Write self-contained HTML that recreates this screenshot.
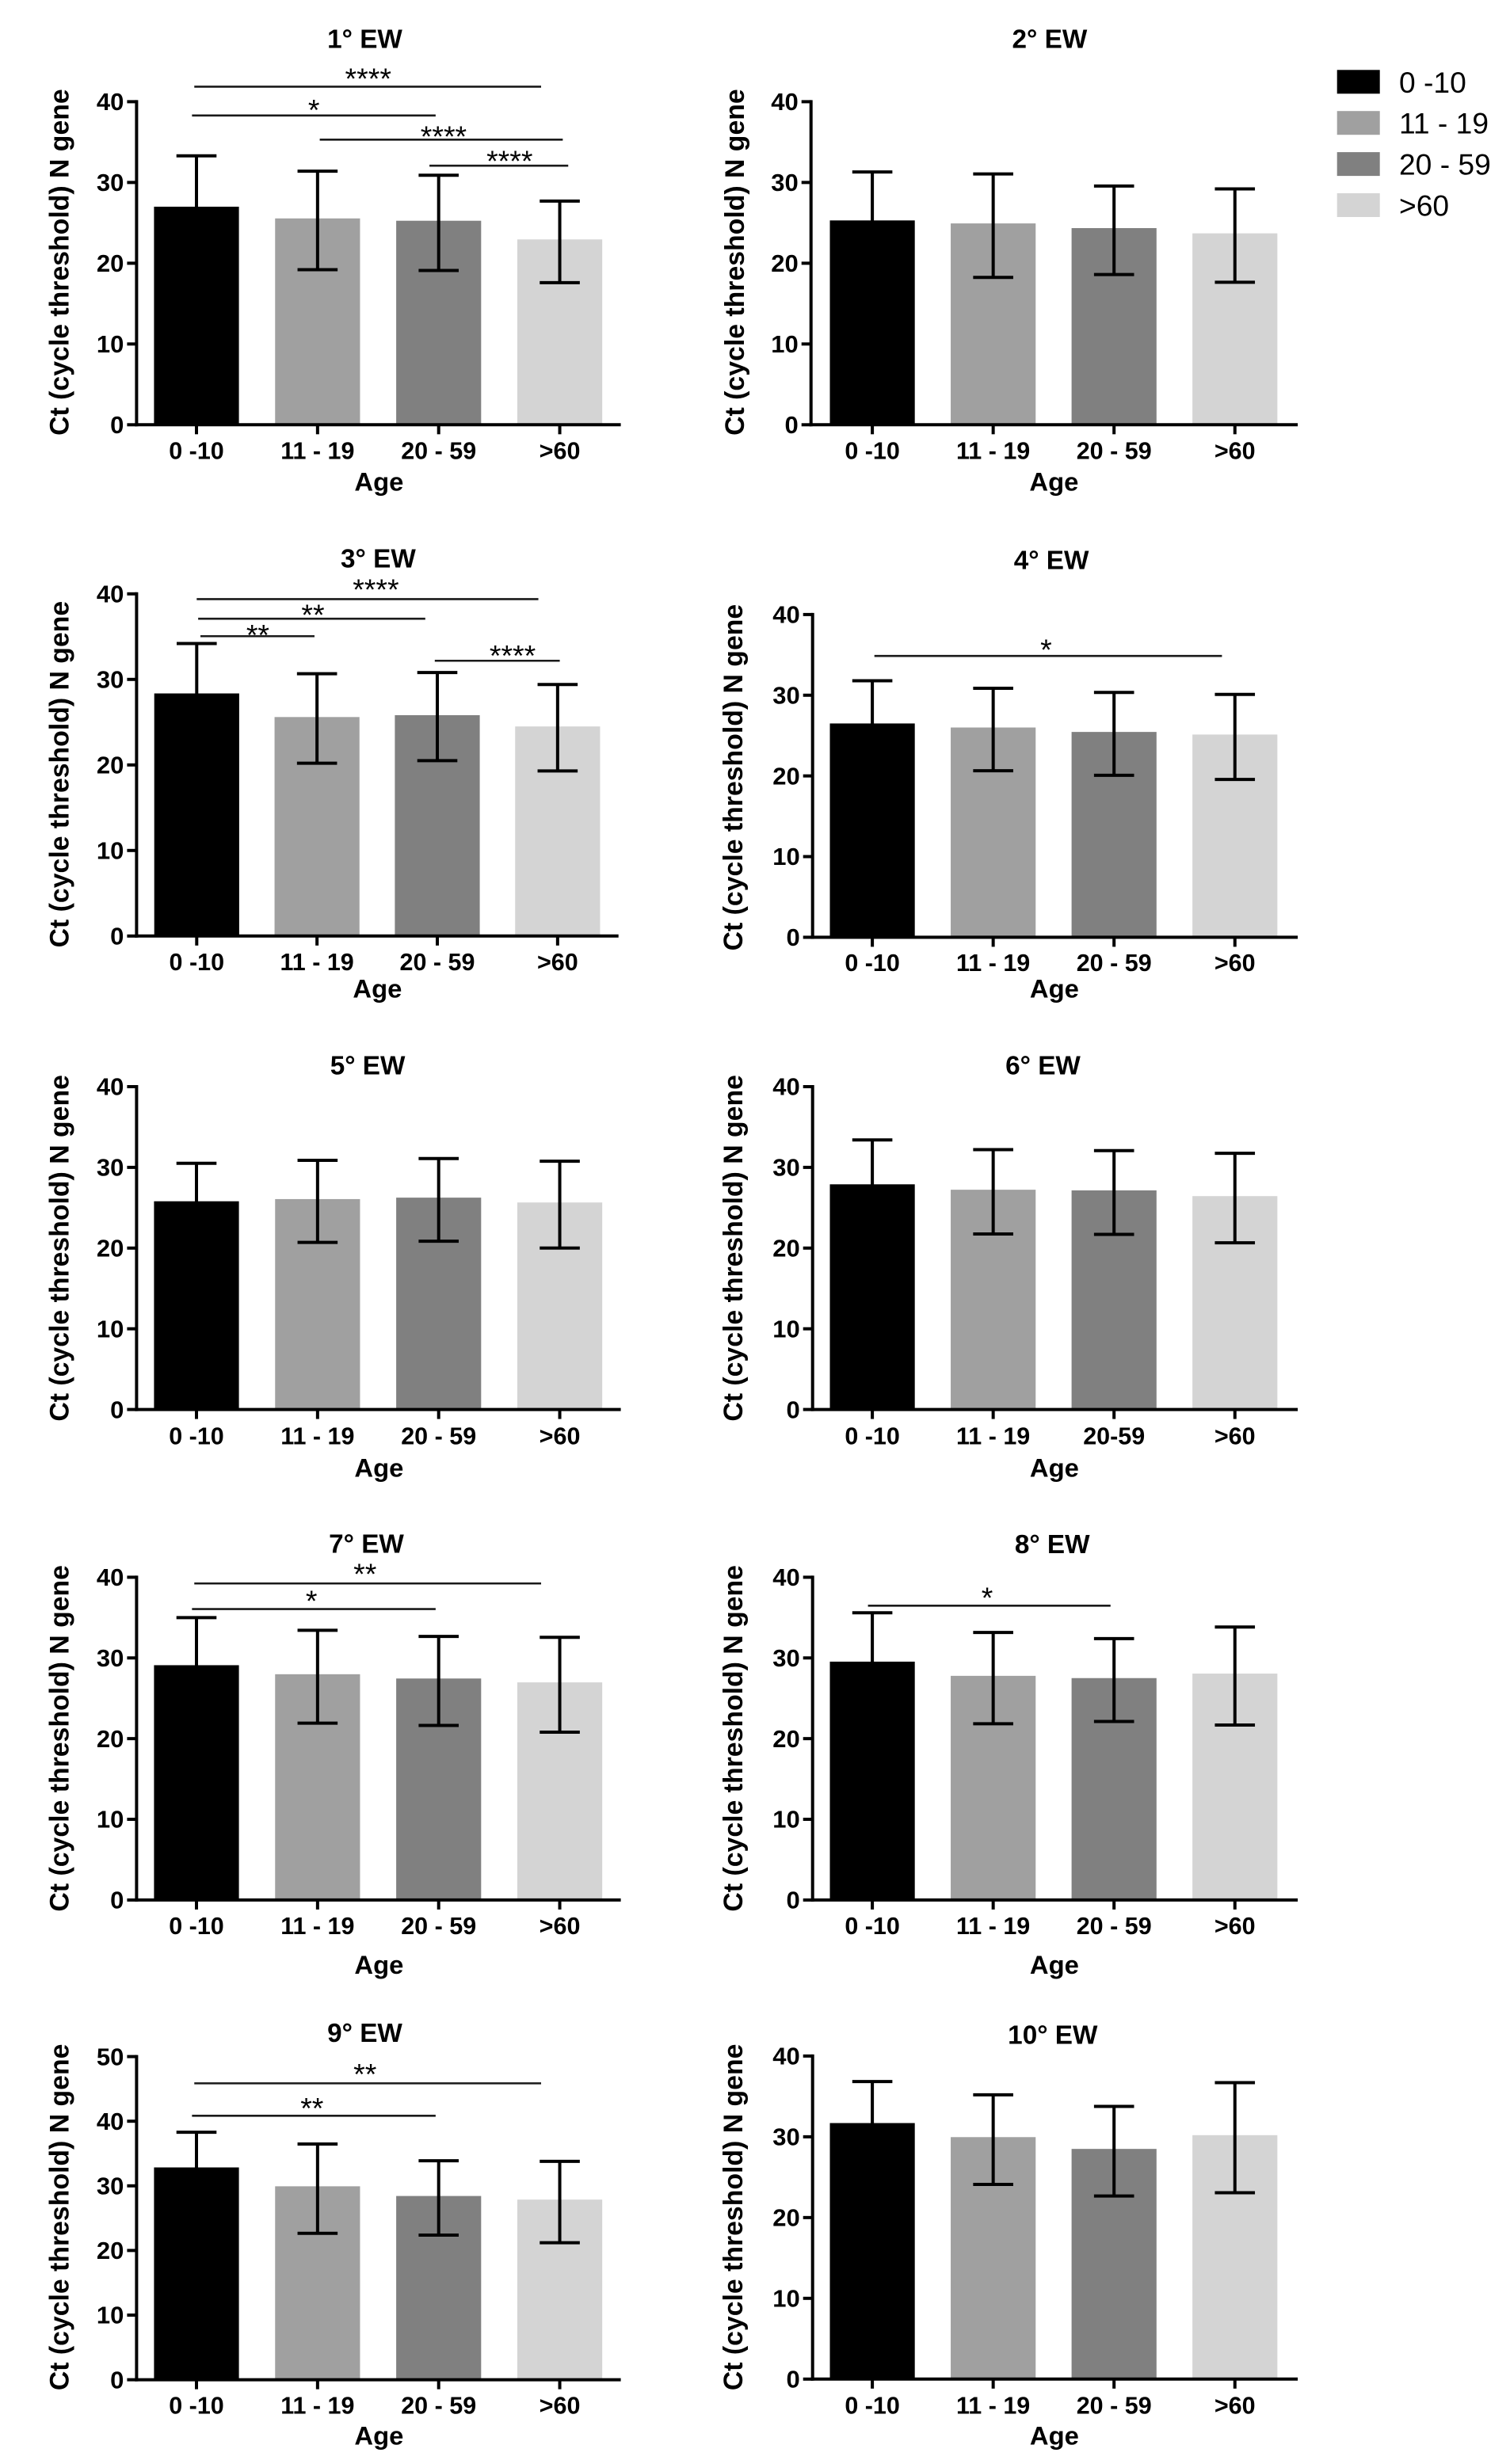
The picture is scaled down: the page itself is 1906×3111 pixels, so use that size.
<!DOCTYPE html>
<html lang="en">
<head>
<meta charset="utf-8">
<title>Ct values of N gene by age group and epidemiological week</title>
<style>
html,body{margin:0;padding:0;background:#fff;width:1906px;height:3111px;overflow:hidden}
svg{display:block}
text{font-family:"Liberation Sans",Arial,sans-serif;fill:#000}
.b{font-weight:700}
</style>
</head>
<body>
<svg id="figure" xmlns="http://www.w3.org/2000/svg" width="1906" height="3111" viewBox="0 0 1906 3111"></svg>
<script>
// ---------- chart data ----------
const panelTitles = ["1° EW","2° EW","3° EW","4° EW","5° EW","6° EW","7° EW","8° EW","9° EW","10° EW"];
const categories = ["0 -10","11 - 19","20 - 59",">60"];
const categoriesWeek6 = ["0 -10","11 - 19","20-59",">60"];
const yMaxes = [40,40,40,40,40,40,40,40,50,40];
const yTicks40 = [0,10,20,30,40];
const yTicks50 = [0,10,20,30,40,50];
const means = [
  [27.0,25.55,25.26,22.95],
  [25.3,24.93,24.35,23.7],
  [28.36,25.6,25.82,24.5],
  [26.5,26.0,25.45,25.13],
  [25.8,26.07,26.25,25.65],
  [27.9,27.23,27.15,26.44],
  [29.1,27.98,27.45,26.97],
  [29.54,27.78,27.5,28.06],
  [32.85,29.93,28.43,27.87],
  [31.7,29.96,28.5,30.2]
];
const errUpper = [
  [33.3,31.4,30.9,27.7],
  [31.3,31.05,29.56,29.2],
  [34.2,30.66,30.8,29.4],
  [31.8,30.86,30.34,30.1],
  [30.5,30.87,31.1,30.76],
  [33.4,32.2,32.07,31.74],
  [35.0,33.43,32.67,32.55],
  [35.6,33.15,32.4,33.83],
  [38.3,36.47,33.88,33.79],
  [36.84,35.2,33.76,36.7]
];
const errLower = [
  [20.7,19.2,19.1,17.6],
  [19.3,18.25,18.6,17.65],
  [22.5,20.2,20.5,19.3],
  [21.2,20.64,20.08,19.56],
  [21.1,20.7,20.85,20.0],
  [22.4,21.75,21.7,20.66],
  [23.2,21.92,21.64,20.8],
  [23.3,21.84,22.12,21.68],
  [27.3,22.65,22.37,21.2],
  [26.5,24.1,22.67,23.08]
];
// significance brackets: [from category, to category, level in Ct units]
const sigBrackets = [
  [[-0.018,2.846,41.86],[-0.037,1.975,38.29],[1.018,3.025,35.3],[1.924,3.07,32.08]],
  [],
  [[0,2.84,39.39],[0.012,1.9,37.09],[0.031,0.979,35.05],[1.979,3.018,32.18]],
  [[0.017,2.893,34.87]],
  [],
  [],
  [[-0.018,2.846,39.23],[-0.037,1.975,36.06]],
  [[-0.036,1.971,36.47]],
  [[-0.018,2.846,45.86],[-0.037,1.975,40.84]],
  []
];
// significance marks: [text, category position, level in Ct units]
const sigMarks = [
  [["****",1.418,43.44],["*",0.969,39.59],["****",2.041,36.29],["****",2.586,33.23]],
  [],
  [["****",1.489,41.06],["**",0.966,38.12],["**",0.508,35.76],["****",2.626,33.34]],
  [["*",1.438,36.23]],
  [],
  [],
  [["**",1.392,40.98],["*",0.95,37.67]],
  [["*",0.95,38.06]],
  [["**",1.392,48.03],["**",0.954,42.76]],
  []
];
const yAxisTitle = "Ct (cycle threshold) N gene";
const xAxisTitle = "Age";
const seriesColors = ["#000000","#a0a0a0","#808080","#d4d4d4"];

// ---------- page layout ----------
const leftCol  = {axisX:172.4, tick0:248, step:152.85, end:783.6, yLabX:86.3};
const rightCol = {axisX:1025.7, tick0:1101.1, step:152.55, end:1638.1, yLabX:936.8};
const frames = [
  {col:leftCol,  yTop:128.4,  y0:536.3,  titleX:460.5,  titleY:60.5, ageX:478.4,  ageY:619.3,  xLabY:579.6,  yLabCY:331.1},
  {col:rightCol, yTop:128.4,  y0:536.3,  titleX:1324.9, titleY:60.5, ageX:1330.4, ageY:619.3,  xLabY:579.6,  yLabCY:331.1, axisX:1023.7, yLabX:938.9},
  {col:leftCol,  yTop:749.8,  y0:1181.8, titleX:477.4,  titleY:716.6,ageX:476.4,  ageY:1259.5, xLabY:1225.2, yLabCY:977.6, step:151.85, tick0:248.3, end:780.7},
  {col:rightCol, yTop:775.9,  y0:1183.4, titleX:1327.1, titleY:718.6,ageX:1330.9, ageY:1259.5, xLabY:1226.2, yLabCY:981.6},
  {col:leftCol,  yTop:1372,   y0:1779.6, titleX:464.1,  titleY:1356.6,ageX:478.4, ageY:1864.7, xLabY:1823.5, yLabCY:1575.9},
  {col:rightCol, yTop:1372,   y0:1779.6, titleX:1316.5, titleY:1356.6,ageX:1330.9,ageY:1864.7, xLabY:1823.5, yLabCY:1575.9},
  {col:leftCol,  yTop:1991.4, y0:2398.9, titleX:462.5,  titleY:1960.5,ageX:478.4, ageY:2492,   xLabY:2441.9, yLabCY:2194.8},
  {col:rightCol, yTop:1991.4, y0:2398.9, titleX:1328.2, titleY:1961,  ageX:1330.9,ageY:2492,   xLabY:2441.9, yLabCY:2194.8},
  {col:leftCol,  yTop:2596.6, y0:3004.6, titleX:460.5,  titleY:2578,  ageX:478.4, ageY:3086.6, xLabY:3047.4, yLabCY:2799.4},
  {col:rightCol, yTop:2595.9, y0:3003.8, titleX:1328.8, titleY:2580.5,ageX:1330.9,ageY:3086.6, xLabY:3047.4, yLabCY:2799.4}
];
const BAR_W = 107.2, CAP_W = 50.6, ERR_SW = 4, AXIS_SW = 4, STAR_SIZE = 37.5;

// ---------- drawing ----------
const NS = "http://www.w3.org/2000/svg";
const figure = document.getElementById("figure");
function mk(tag, attrs, parent, txt){
  const el = document.createElementNS(NS, tag);
  for (const k in attrs) el.setAttribute(k, attrs[k]);
  if (txt !== undefined) el.textContent = txt;
  parent.appendChild(el);
  return el;
}
function drawPanel(i){
  const f = frames[i], c = f.col;
  const axisX = f.axisX ?? c.axisX, tick0 = f.tick0 ?? c.tick0, step = f.step ?? c.step,
        end = f.end ?? c.end, yLabX = f.yLabX ?? c.yLabX;
  const yMax = yMaxes[i];
  const yScale = v => f.y0 - (v / yMax) * (f.y0 - f.yTop);
  const xScale = k => tick0 + k * step;
  const labels = i === 5 ? categoriesWeek6 : categories;
  const ticks = yMax === 50 ? yTicks50 : yTicks40;

  const g = mk("g", {}, figure);
  
  

  const title = mk("text", {x:f.titleX, y:f.titleY, "text-anchor":"middle", "font-size":33.3, class:"b"}, g, panelTitles[i]);
  
  

  means[i].forEach((m, k) => {
    const bar = mk("rect", {x:xScale(k) - BAR_W / 2, y:yScale(m), width:BAR_W, height:f.y0 - yScale(m), fill:seriesColors[k]}, g);
    
    
  });
  means[i].forEach((m, k) => {
    const x = xScale(k), yU = yScale(errUpper[i][k]), yL = yScale(errLower[i][k]);
    const stem = mk("line", {x1:x, x2:x, y1:yU, y2:yL, stroke:"#000", "stroke-width":ERR_SW}, g);
    
    
    const capU = mk("line", {x1:x - CAP_W / 2, x2:x + CAP_W / 2, y1:yU, y2:yU, stroke:"#000", "stroke-width":ERR_SW}, g);
    
    
    const capL = mk("line", {x1:x - CAP_W / 2, x2:x + CAP_W / 2, y1:yL, y2:yL, stroke:"#000", "stroke-width":ERR_SW}, g);
    
    
  });

  const yAxis = mk("line", {x1:axisX, x2:axisX, y1:f.yTop - 2, y2:f.y0 + 2, stroke:"#000", "stroke-width":AXIS_SW}, g);
  
  
  const xAxis = mk("line", {x1:axisX - 2, x2:end, y1:f.y0, y2:f.y0, stroke:"#000", "stroke-width":AXIS_SW}, g);
  
  

  ticks.forEach(t => {
    const y = yScale(t);
    const tk = mk("line", {x1:axisX - 12, x2:axisX, y1:y, y2:y, stroke:"#000", "stroke-width":AXIS_SW}, g);
    
    
    const lb = mk("text", {x:axisX - 16, y:y + 10.7, "text-anchor":"end", "font-size":31, class:"b"}, g, String(t));
    
    
  });
  labels.forEach((name, k) => {
    const x = xScale(k);
    const tk = mk("line", {x1:x, x2:x, y1:f.y0, y2:f.y0 + 12, stroke:"#000", "stroke-width":AXIS_SW}, g);
    
    
    const lb = mk("text", {x:x, y:f.xLabY, "text-anchor":"middle", "font-size":30.5, class:"b"}, g, name);
    
    
  });

  const xt = mk("text", {x:f.ageX, y:f.ageY, "text-anchor":"middle", "font-size":32.8, class:"b"}, g, xAxisTitle);
  
  
  const yt = mk("text", {transform:"translate(" + yLabX + " " + f.yLabCY + ") rotate(-90)", "text-anchor":"middle", "font-size":33.8, class:"b"}, g, yAxisTitle);
  
  

  sigBrackets[i].forEach(b => {
    const y = yScale(b[2]);
    const ln = mk("line", {x1:xScale(b[0]), x2:xScale(b[1]), y1:y, y2:y, stroke:"#1a1a1a", "stroke-width":2.6}, g);
    
    
  });
  sigMarks[i].forEach(s => {
    const st = mk("text", {x:xScale(s[1]), y:yScale(s[2]) + STAR_SIZE * 0.5, "text-anchor":"middle", "font-size":STAR_SIZE}, g, s[0]);
    
    
  });
}
frames.forEach((f, i) => drawPanel(i));

// ---------- legend ----------
const legend = mk("g", {}, figure);


categories.forEach((name, k) => {
  const y = 88.3 + k * 51.9;
  const sw = mk("rect", {x:1687.7, y:y, width:54, height:30, fill:seriesColors[k]}, legend);
  
  
  const tx = mk("text", {x:1766, y:y + 28.5, "font-size":37.2}, legend, name);
  
  
});
</script>
</body>
</html>
